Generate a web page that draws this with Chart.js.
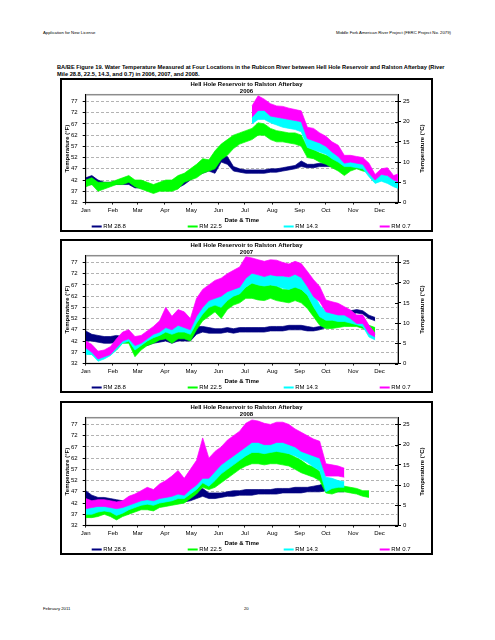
<!DOCTYPE html>
<html><head><meta charset="utf-8">
<script src="https://cdn.jsdelivr.net/npm/chart.js@4.4.1/dist/chart.umd.min.js"></script>
<style>
html,body{margin:0;padding:0;background:#fff}
body{width:495px;height:640px;position:relative;overflow:hidden;font-family:"Liberation Sans",Arial,sans-serif;color:#000}
.t{position:absolute;white-space:nowrap}
.hdr{font-size:4.25px;line-height:5px}
.cap{font-size:5.7px;line-height:7.3px;font-weight:bold;left:57px;top:63.5px}
.box{position:absolute;left:60px;width:373px;height:154px;border:2px solid #000;box-sizing:border-box;pointer-events:none}
canvas{position:absolute;left:60px}
</style></head><body>
<div class="t hdr" style="left:43px;top:29.5px">Application for New License</div>
<div class="t hdr" style="right:44px;top:29.5px">Middle Fork American River Project (FERC Project No. 2079)</div>
<div class="t cap">BA/BE Figure 19. Water Temperature Measured at Four Locations in the Rubicon River between Hell Hole Reservoir and Ralston Afterbay (River<br>Mile 28.8, 22.5, 14.3, and 0.7) in 2006, 2007, and 2008.</div>
<canvas id="c2006" width="373" height="154" style="top:78px"></canvas>
<div class="box" style="top:78px"></div>
<canvas id="c2007" width="373" height="154" style="top:239px"></canvas>
<div class="box" style="top:239px"></div>
<canvas id="c2008" width="373" height="154" style="top:401px"></canvas>
<div class="box" style="top:401px"></div>
<div class="t hdr" style="left:43px;top:605.5px">February 2011</div>
<div class="t hdr" style="left:244px;top:605.5px">20</div>
<script>
// ---- shared axis data ----
const days = [0,7,14,21,28,35,42,49,56,63,70,77,84,91,98,105,112,119,126,133,140,147,154,161,168,175,182,189,196,203,210,217,224,231,238,245,252,259,266,273,280,287,294,301,308,315,322,329,336,343,350,357];
const monthDays = [0,31,59,90,120,151,181,212,243,273,304,334];
const monthLabels = ['Jan','Feb','Mar','Apr','May','Jun','Jul','Aug','Sep','Oct','Nov','Dec'];
const fTicks = [32,37,42,47,52,57,62,67,72,77];
const cTicks = [0,5,10,15,20,25];
const seriesNames = ['RM 28.8','RM 22.5','RM 14.3','RM 0.7'];
const seriesColors = ['#000080','#00FF00','#00FFFF','#FF00FF'];
const chartTitle = 'Hell Hole Reservoir to Ralston Afterbay';
const N = null;

// ---- 2006 (deg F, daily low / high envelope, weekly) ----
const rm288Low2006  = [40,40,40,39.5,40,40,40,40,38.5,38.5,38,37,37.5,38,38,38.5,40,42,44,45,46,45,50,49,46,45.5,45,45,45,45,45.5,45.5,46,46.5,47,48,47.5,47.5,48,48,48,48,48,48,48,48,48,N,N,N,N,N];
const rm288High2006 = [43,44,42,41,41,41.5,42,42,40.5,40.5,40,39,39.5,40,40,40.5,42,45,47,49,49,48,53,52.5,48,47,46.5,46.5,46.5,46.5,47,47,47.5,48,48.5,50.5,49,49,49.5,49.5,49.2,49,49,49,49,49,49,N,N,N,N,N];
const rm225Low2006  = [39,40,37,38,39,40,40,41,39,38,37,36,37,37,37,38,41,42,43,45,46,47,51,53,56,58,59,60,62,62,60,59,59,58.5,58,57,52,51.5,50,49,47.5,46,44,46,47,46,45.5,N,N,N,N,N];
const rm225High2006 = [42,43,41,41,41,42,43,44,42,42,41,40,41,42,42,44,45,47,49,51.5,51,55,58,60,62,63,64,65,67.5,67,65,64,63.5,63,63,62,56.5,55.5,54,53,52,50.5,48.5,49.5,50.5,49.5,48.5,N,N,N,N,N];
const rm143Low2006  = [N,N,N,N,N,N,N,N,N,N,N,N,N,N,N,N,N,N,N,N,N,N,N,N,N,N,N,67,69,69,67.5,66.5,65.5,65,64.5,63.5,56.5,55.5,54.5,53.5,51.5,50,48,48,47.5,47,43.5,40.5,41.5,40.5,39,38];
const rm143High2006 = [N,N,N,N,N,N,N,N,N,N,N,N,N,N,N,N,N,N,N,N,N,N,N,N,N,N,N,71,73,73.5,71,70,69.5,69,68.5,68,62,60,59,58,56,54.5,51.5,51,50,49.5,47,43,44.5,44,42,42];
const rm07Low2006   = [N,N,N,N,N,N,N,N,N,N,N,N,N,N,N,N,N,N,N,N,N,N,N,N,N,N,N,70,73,73,70.5,70,69.5,69,68.5,68,60.5,59.5,58.5,57,54.5,52.5,49.5,50,49.5,49,45,42,44.5,44,42,41];
const rm07High2006  = [N,N,N,N,N,N,N,N,N,N,N,N,N,N,N,N,N,N,N,N,N,N,N,N,N,N,N,75,79.5,78,76,75,74.8,74,73.4,72.8,65.5,65,63,61.5,59,57.5,53,53,52.5,52,49.5,44.5,47,47.5,44,45];

// ---- 2007 ----
const rm288Low2007  = [42,42,41.5,41,41,41.5,42,42,41,40,40,41,41.5,42,41,42,42,42,45,46,45.5,45.5,45.5,46,45.5,46,46,46,46,46,46.5,46.5,46.5,47,47,47,46.5,46.5,47,48,49.5,50.5,52,54,54.5,54,52,51,N,N,N,N];
const rm288High2007 = [46.5,45,44.5,44,44,44.5,44,44,43,42,42.5,43,44,45,44.5,46,45,45,48.5,48.5,48,47.5,47.5,48,47.5,48,48,48,48,48,48.5,48.5,48.5,49,49,49,48.5,48,48.5,50,51,52,53.5,55.5,56,55.5,53.5,52.5,N,N,N,N];
const rm225Low2007  = [36.5,36,34,35,36,38,41,41,35,38,40,41,42.5,43,41,43,43,42,47,51,53,55,52,56,58,59,61,61,60.3,60,61,60,59.5,59,60,59,56.5,52.8,49,47.6,47.6,48,48.5,48.5,48.5,47.6,46,45,N,N,N,N];
const rm225High2007 = [38.5,38.5,37,37.5,38.5,41,43.5,44,40,42,43.5,44.5,46,48,46,49,48,46,53,57,59,60,57,62,63.5,65,66,67.8,67,66.5,67,66.5,65,65,66.5,65,62.5,57.3,53.6,51.3,51.3,52,52,51.5,51.5,50.5,49,48,N,N,N,N];
const rm143Low2007  = [36,36,33,34,35.5,38,41,42,38,40,42,43.5,44.5,46,45,46,46,45,50,54,57,58,57,60,62,63,66,67.8,67,66.5,67,66.5,65.5,65,66,65,62.5,57.3,52.8,51.3,51.3,50.7,50.7,50,49.3,48.5,43.8,42.5,N,N,N,N];
const rm143High2007 = [39,39,36,37,38.5,41.5,44,45,42,43,45,46.5,48,52,50,52,51,49,57,60.5,63,64,63,67,69,70,73,72.2,71.5,71,72,71.5,71,70.3,72,70.3,67.8,63.3,58,55,55.5,54,54,53.6,53,52.3,47.6,45,N,N,N,N];
const rm07Low2007   = [39,37,34,35,36,39,42,43,40,41,43,45,46,48,47,49,48,47,53,57,60,61,62,64,65,66,70,72.2,71.5,70.7,71.5,71,71,70.5,71.7,70.3,66.3,61.8,59.5,55,54.3,53.6,53.6,52,49.8,49.8,45.3,43.8,N,N,N,N];
const rm07High2007  = [42,40.5,37.5,38,39.5,43,46,47,44,44.5,46.5,48.5,51,57,53,56,55,52,61,65,67,69,70,72,73.5,75,79.5,79,78.2,77.5,78.2,78,77,76.3,77.5,76.5,73,69.3,66.3,60.3,59.5,58.8,57.3,55.8,53.6,53.6,49,45.5,N,N,N,N];

// ---- 2008 ----
const rm288Low2008  = [43,42,42,42,41.5,41,40.5,40.5,41,41,41,41,41.5,41.5,42,42,42.5,43,44,45,44,44,44.5,45,45,45.5,45.5,45.5,46,46,46,46,46.5,46.5,46.5,46.5,47,47,47,47.5,47,47,47,N,N,N,N,N,N,N,N,N];
const rm288High2008 = [47.5,45.5,44.5,44.5,44,43.5,43,43,43,43,43.5,44,44,44,44.5,45,45.5,46,47.5,48.5,46.5,46.5,46.5,47,47.5,47.5,48,48,48,48,48,48.5,48.5,48.5,49,49,49,49.5,50,51,48.5,48.5,48.5,N,N,N,N,N,N,N,N,N];
const rm225Low2008  = [35.5,35.5,36,37,36,34.5,36,37,38,39,39,38.5,40,40.5,41,41.5,42,44,46,49,48,49,51,53,55,57,58.5,59.5,59.5,59,59.5,59.5,59,58.5,57,55.5,54.5,53.5,52,46.5,46,47,47,46.5,46,45,44.5,N,N,N,N,N];
const rm225High2008 = [39,38.5,39,40,39.5,38,39,40,41,42.5,43,42.5,44,45,45.5,46.5,46.5,48.5,51,56,52,55,57,59,61,62.5,64,65,65,64.5,65,65.5,65,64,62.5,61,59,58,56,49,49,49.5,49.5,49,48.5,47.5,47.5,N,N,N,N,N];
const rm143Low2008  = [37,37,38,38.5,38,36.5,37.5,39,40,41,41.5,41,42,42.5,43,44,44,46,48,51,49.5,52,55,57,59,61,63,64.5,64.5,64,64.5,65,64.5,64,63,61.5,60,58,56.5,47,48.5,49,49,N,N,N,N,N,N,N,N,N];
const rm143High2008 = [40,40,41,41,40.5,39.5,40.5,42,43,44,45,45,46,47,48,50,50,52,56,60,56,60,62,64,66,68,70,71,71,70.5,70.5,71,70.5,70,69,68,66,64.5,63,53.5,53,52,51.5,N,N,N,N,N,N,N,N,N];
const rm07Low2008   = [39.5,40,40.5,40.5,40,39.5,40,41,42,43,43.5,43,44,44.5,45,46,45.5,48,50,53,53,56,59,61,63,65,67,69,69,68,68,69,69,68,67,65,64,63,62,54,54,54,53.5,N,N,N,N,N,N,N,N,N];
const rm07High2008  = [44,43,43.5,43.5,43,42.5,43,45,46,47.5,49,48,50.5,52,54,56.5,53,57,61,71,62,65,67,70,72,74,77.5,79,78.5,77.5,77,78,78,77,75,73.5,72,70.5,69.5,59.5,59,58.5,57.5,N,N,N,N,N,N,N,N,N];

const F = '"Liberation Sans", Arial, sans-serif';
Chart.defaults.font.family = F;
Chart.defaults.color = '#000';

const decor = {
  id: 'decor',
  beforeDatasetsDraw(chart) {
    const {ctx, chartArea: a} = chart;
    ctx.save();
    ctx.strokeStyle = '#8c8c8c';
    ctx.lineWidth = 1.5;
    ctx.strokeRect(a.left, a.top, a.right - a.left, a.bottom - a.top);
    ctx.restore();
  },
  afterDraw(chart) {
    const {ctx, chartArea: a} = chart;
    ctx.save();
    // inner half of the crossing tick marks on the right axis
    ctx.strokeStyle = '#000';
    ctx.lineWidth = 1;
    const y2 = chart.scales.y2;
    cTicks.forEach(v => {
      const py = Math.round(y2.getPixelForValue(v)) + 0.5;
      ctx.beginPath(); ctx.moveTo(a.right - 3, py); ctx.lineTo(a.right, py); ctx.stroke();
    });
    ctx.font = '6px ' + F;
    ctx.textBaseline = 'middle';
    ctx.fillStyle = '#000';
    const ly = chart.height - 5.5;
    for (let s = 0; s < 4; s++) {
      const x0 = a.left + 6 + s * 96;
      ctx.strokeStyle = seriesColors[s];
      ctx.lineWidth = 2;
      ctx.beginPath(); ctx.moveTo(x0, ly); ctx.lineTo(x0 + 10, ly); ctx.stroke();
      ctx.fillText(seriesNames[s], x0 + 11.5, ly);
    }
    ctx.font = 'bold 6px ' + F;
    ctx.translate(362.7, (a.top + a.bottom) / 2);
    ctx.rotate(-Math.PI / 2);
    ctx.textAlign = 'center';
    ctx.fillText('Temperature (\u00B0C)', 0, 0);
    ctx.restore();
  }
};

function build(id, year, lows, highs) {
  const datasets = [];
  for (let s = 0; s < 4; s++) {
    const common = {borderColor: seriesColors[s], borderWidth: 0.7, pointRadius: 0, pointHoverRadius: 0, pointHitRadius: 0, tension: 0, spanGaps: false, order: 3 - s};
    datasets.push(Object.assign({label: seriesNames[s] + ' low', data: days.map((d, i) => ({x: d, y: lows[s][i]})), fill: false}, common));
    datasets.push(Object.assign({label: seriesNames[s], data: days.map((d, i) => ({x: d, y: highs[s][i]})), fill: '-1', backgroundColor: seriesColors[s]}, common));
  }
  new Chart(document.getElementById(id), {
    type: 'line',
    data: {datasets},
    plugins: [decor],
    options: {
      responsive: false, animation: false, devicePixelRatio: 1, events: [],
      layout: {padding: {left: 0, right: 0, top: 0, bottom: 8.5}},
      plugins: {
        legend: {display: false},
        tooltip: {enabled: false},
        title: {display: true, text: [chartTitle, year], color: '#000', font: {size: 6, weight: 'bold', lineHeight: 1.2}, padding: {top: 2.3, bottom: 0}}
      },
      scales: {
        x: {
          type: 'linear', min: 0, max: 355,
          afterBuildTicks: s => { s.ticks = monthDays.map(v => ({value: v})); },
          afterFit: s => { s.height = 21; },
          ticks: {autoSkip: false, maxRotation: 0, minRotation: 0, padding: 2, font: {size: 6}, color: '#000', callback: (v, i) => monthLabels[i]},
          grid: {drawOnChartArea: false, drawTicks: true, tickLength: 2, tickColor: '#000', tickWidth: 1},
          border: {display: true, color: '#000', width: 1, z: 1},
          title: {display: true, text: 'Date & Time', color: '#000', font: {size: 6, weight: 'bold', lineHeight: 1.2}, padding: 0}
        },
        y: {
          position: 'left', min: 32, max: 80,
          afterBuildTicks: s => { s.ticks = fTicks.map(v => ({value: v})); },
          afterFit: s => { s.width = 25.7; },
          ticks: {padding: 5, font: {size: 6}, color: '#000'},
          grid: {color: c => (c.tick && c.tick.value === 32) ? 'rgba(0,0,0,0)' : '#9a9a9a', lineWidth: 0.75, drawTicks: true, tickLength: 3, tickColor: '#000', tickWidth: 1},
          border: {display: true, color: '#000', width: 1, z: 1, dash: [3, 2]},
          title: {display: true, text: 'Temperature (\u00B0F)', color: '#000', font: {size: 6, weight: 'bold', lineHeight: 1.2}, padding: {top: 3.4, bottom: 0}}
        },
        y2: {
          position: 'right', min: 0, max: 80 / 1.8 - 32 / 1.8,
          afterBuildTicks: s => { s.ticks = cTicks.map(v => ({value: v})); },
          afterFit: s => { s.width = 35; },
          ticks: {padding: 2, font: {size: 6}, color: '#000'},
          grid: {drawOnChartArea: false, drawTicks: true, tickLength: 3, tickColor: '#000', tickWidth: 1},
          border: {display: true, color: '#000', width: 1, z: 1}
        }
      }
    }
  });
}

build('c2006', '2006', [rm288Low2006, rm225Low2006, rm143Low2006, rm07Low2006], [rm288High2006, rm225High2006, rm143High2006, rm07High2006]);
build('c2007', '2007', [rm288Low2007, rm225Low2007, rm143Low2007, rm07Low2007], [rm288High2007, rm225High2007, rm143High2007, rm07High2007]);
build('c2008', '2008', [rm288Low2008, rm225Low2008, rm143Low2008, rm07Low2008], [rm288High2008, rm225High2008, rm143High2008, rm07High2008]);
</script>
</body></html>
